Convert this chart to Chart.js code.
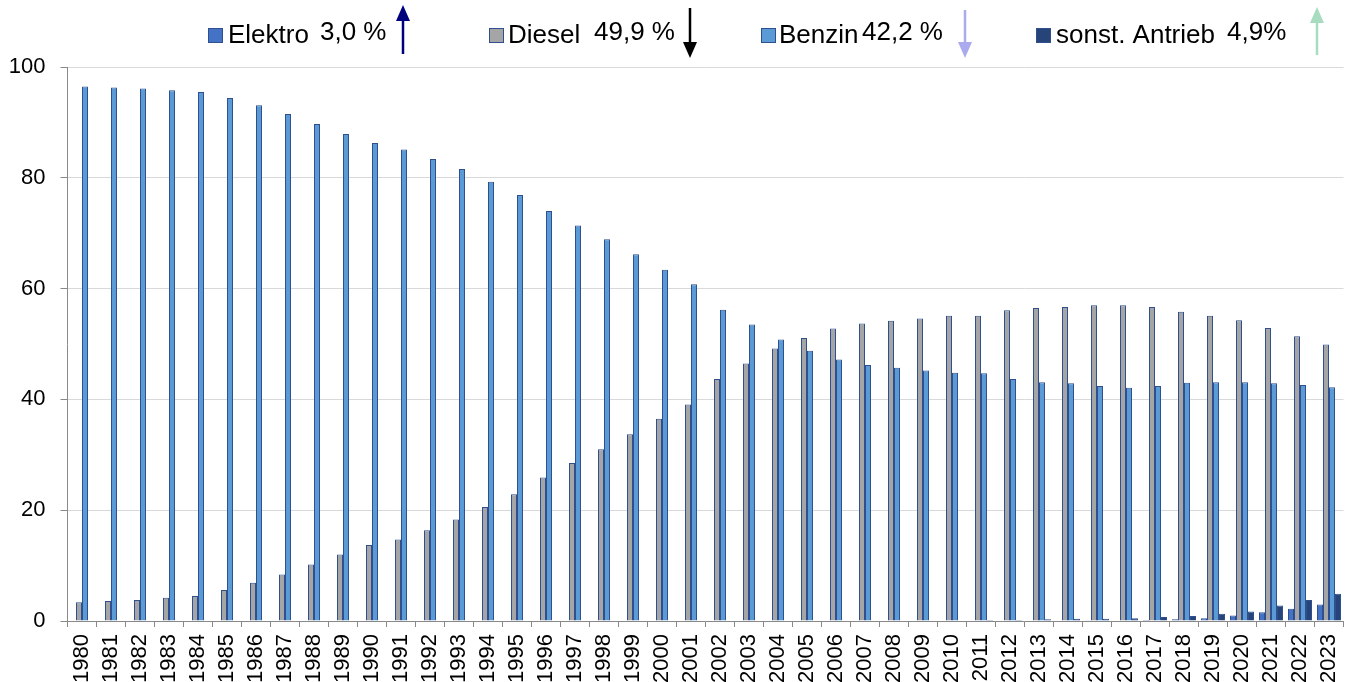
<!DOCTYPE html>
<html>
<head>
<meta charset="utf-8">
<script src="https://cdn.jsdelivr.net/npm/chart.js@4"></script>
<style>
  html, body { margin: 0; padding: 0; background: #fff; }
  #wrap { width: 1349px; height: 682px; position: relative; }
</style>
</head>
<body>
<div id="wrap"><canvas id="chart"></canvas></div>
<script>
// Anteil der Antriebsarten (%) je Jahr
const years = [];
for (let y = 1980; y <= 2023; y++) years.push(String(y));

const elektro = [0, 0, 0, 0, 0, 0, 0, 0, 0, 0,
  0, 0, 0, 0, 0, 0, 0, 0, 0, 0,
  0, 0, 0, 0, 0, 0, 0, 0, 0, 0,
  0, 0, 0, 0, 0, 0.05, 0.1, 0.2, 0.3, 0.5,
  1.0, 1.6, 2.2, 3.0];

const diesel = [3.4, 3.6, 3.8, 4.2, 4.5, 5.6, 6.9, 8.4, 10.2, 12.0,
  13.7, 14.7, 16.4, 18.3, 20.6, 22.9, 25.9, 28.5, 31.0, 33.7,
  36.5, 39.1, 43.7, 46.5, 49.2, 51.1, 52.8, 53.7, 54.2, 54.6,
  55.1, 55.1, 56.1, 56.5, 56.7, 57.0, 57.0, 56.7, 55.8, 55.1,
  54.3, 52.9, 51.4, 49.9];

const benzin = [96.5, 96.3, 96.1, 95.8, 95.5, 94.4, 93.1, 91.5, 89.7, 87.9,
  86.3, 85.1, 83.4, 81.6, 79.3, 76.9, 74.0, 71.4, 68.9, 66.2,
  63.4, 60.8, 56.2, 53.5, 50.8, 48.8, 47.2, 46.2, 45.7, 45.2,
  44.8, 44.7, 43.7, 43.1, 42.9, 42.4, 42.1, 42.4, 43.0, 43.1,
  43.1, 42.9, 42.6, 42.2];

const sonst = [0, 0, 0, 0, 0, 0, 0, 0, 0, 0,
  0, 0, 0, 0, 0, 0, 0, 0, 0, 0,
  0, 0, 0, 0, 0, 0, 0, 0, 0, 0,
  0.1, 0.2, 0.2, 0.3, 0.4, 0.4, 0.5, 0.7, 0.9, 1.3,
  1.7, 2.8, 3.8, 4.9];

const yTicks = [0, 20, 40, 60, 80, 100];

const colors = {
  elektro: '#4472c4',
  diesel: '#a5a5a5',
  benzin: '#5b9bd5',
  sonst: '#264478',
  border: '#2f4f8f'
};

// Legende mit Werten und Pfeilen
const legendItems = [
  { box: 208, text: 'Elektro', tx: 228, value: '3,0 %', vx: 320, color: colors.elektro, arrow: { x: 403, up: true, top: 5, bottom: 54, color: '#00007f' } },
  { box: 489, text: 'Diesel', tx: 508, value: '49,9 %', vx: 594, color: colors.diesel, arrow: { x: 690, up: false, top: 8, bottom: 58, color: '#000000' } },
  { box: 761, text: 'Benzin', tx: 779, value: '42,2 %', vx: 862, color: colors.benzin, arrow: { x: 965, up: false, top: 10, bottom: 58, color: '#aaaaee' } },
  { box: 1036, text: 'sonst. Antrieb', tx: 1056, value: '4,9%', vx: 1227, color: colors.sonst, arrow: { x: 1317, up: true, top: 7, bottom: 55, color: '#a8dcc0' } }
];

const legendPlugin = {
  id: 'customLegend',
  afterDraw(chart) {
    const ctx = chart.ctx;
    ctx.save();
    ctx.font = '26px "Liberation Sans", Arial, sans-serif';
    ctx.textBaseline = 'middle';
    ctx.fillStyle = '#000';
    legendItems.forEach(it => {
      ctx.fillStyle = it.color;
      ctx.fillRect(it.box, 28, 15, 15);
      ctx.strokeStyle = colors.border;
      ctx.lineWidth = 1;
      ctx.strokeRect(it.box + 0.5, 28.5, 14, 14);
      ctx.fillStyle = '#000';
      ctx.fillText(it.text, it.tx, 36);
      ctx.fillText(it.value, it.vx, 33);

      const a = it.arrow;
      ctx.strokeStyle = a.color;
      ctx.fillStyle = a.color;
      ctx.lineWidth = 2.5;
      ctx.beginPath();
      if (a.up) {
        ctx.moveTo(a.x, a.bottom);
        ctx.lineTo(a.x, a.top + 12);
      } else {
        ctx.moveTo(a.x, a.top);
        ctx.lineTo(a.x, a.bottom - 12);
      }
      ctx.stroke();
      ctx.beginPath();
      if (a.up) {
        ctx.moveTo(a.x, a.top);
        ctx.lineTo(a.x - 7, a.top + 16);
        ctx.lineTo(a.x + 7, a.top + 16);
      } else {
        ctx.moveTo(a.x, a.bottom);
        ctx.lineTo(a.x - 7, a.bottom - 16);
        ctx.lineTo(a.x + 7, a.bottom - 16);
      }
      ctx.closePath();
      ctx.fill();
    });
    ctx.restore();
  }
};

const dataset = (label, data, color) => ({
  label,
  data,
  backgroundColor: color,
  borderColor: colors.border,
  borderWidth: 1,
  categoryPercentage: 24 / 29,
  barPercentage: 1.0
});

new Chart(document.getElementById('chart'), {
  type: 'bar',
  data: {
    labels: years,
    datasets: [
      dataset('Elektro', elektro, colors.elektro),
      dataset('Diesel', diesel, colors.diesel),
      dataset('Benzin', benzin, colors.benzin),
      dataset('sonst. Antrieb', sonst, colors.sonst)
    ]
  },
  options: {
    responsive: true,
    maintainAspectRatio: false,
    animation: false,
    layout: { padding: { top: 67, right: 5.5, left: 0.5, bottom: 0 } },
    plugins: {
      legend: { display: false },
      tooltip: { enabled: false }
    },
    scales: {
      x: {
        grid: {
          offset: true,
          drawOnChartArea: false,
          tickLength: 6,
          color: '#898989'
        },
        border: { color: '#898989' },
        ticks: {
          color: '#000',
          font: { size: 22, family: '"Liberation Sans", Arial, sans-serif' },
          minRotation: 90,
          maxRotation: 90,
          autoSkip: false,
          padding: 7
        },
        afterFit(scale) {
          scale.height = 61;
          scale.paddingLeft = 0;
          scale.paddingRight = 0;
        }
      },
      y: {
        min: 0,
        max: 100,
        afterBuildTicks(scale) { scale.ticks = yTicks.map(v => ({ value: v })); },
        grid: {
          color: '#d9d9d9',
          tickColor: '#898989',
          tickLength: 7
        },
        border: { color: '#898989' },
        ticks: {
          color: '#000',
          font: { size: 22, family: '"Liberation Sans", Arial, sans-serif' },
          padding: 15
        },
        afterFit(scale) { scale.width = 67; }
      }
    }
  },
  plugins: [legendPlugin]
});
</script>
</body>
</html>
